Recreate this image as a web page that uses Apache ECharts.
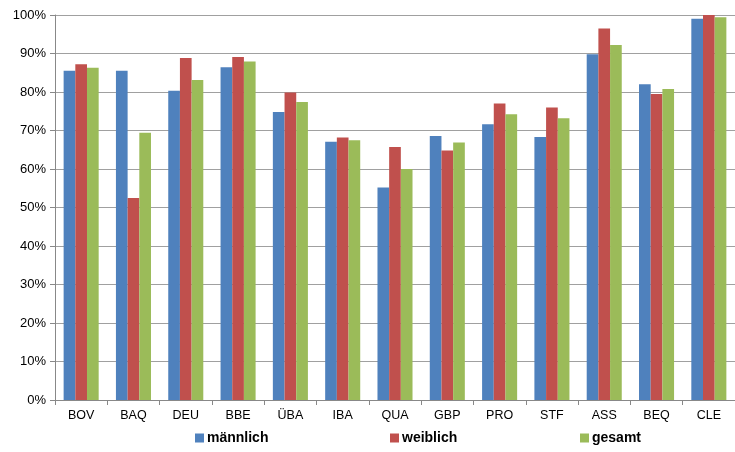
<!DOCTYPE html>
<html><head><meta charset="utf-8">
<script src="https://cdn.jsdelivr.net/npm/echarts@6/dist/echarts.min.js"></script>
<style>html,body{margin:0;padding:0;background:#fff}#c{width:735px;height:452px}</style>
</head><body><div id="c"></div>
<script>
const categories = ['BOV','BAQ','DEU','BBE','ÜBA','IBA','QUA','GBP','PRO','STF','ASS','BEQ','CLE'];
const maennlich = [85.5,85.5,80.3,86.4,74.8,67.1,55.2,68.6,71.6,68.3,89.8,82.0,99.0];
const weiblich  = [87.2,52.5,88.8,89.1,79.9,68.2,65.7,64.8,77.0,76.0,96.5,79.5,100.0];
const gesamt    = [86.3,69.4,83.1,87.9,77.4,67.5,60.0,66.9,74.2,73.2,92.2,80.8,99.4];
const seriesNames = ['männlich','weiblich','gesamt'];
const colors = ['#4F81BD','#C0504D','#9BBB59'];
const font = 'Liberation Sans, Arial, sans-serif';
const chart = echarts.init(document.getElementById('c'));
const legendLeft = [190, 385, 575];
chart.setOption({
  animation:false,
  grid:{left:55,right:0,top:15,bottom:52,containLabel:false},
  legend: seriesNames.map((n,i)=>({
    data:[n], left:legendLeft[i], top:426, itemWidth:9, itemHeight:9, itemGap:0,
    icon:'rect', textStyle:{fontFamily:font,fontSize:14,fontWeight:'bold',color:'#000',padding:[0,0,0,-2]}
  })),
  xAxis:{
    type:'category', data:categories, boundaryGap:true,
    axisLine:{lineStyle:{color:'#888',width:1}},
    axisTick:{show:true,length:5,lineStyle:{color:'#888'}},
    axisLabel:{fontFamily:font,fontSize:12.5,color:'#000',margin:9}
  },
  yAxis:{
    type:'value', min:0, max:100, interval:10,
    axisLine:{show:true,lineStyle:{color:'#888'}},
    axisTick:{show:true,length:5,lineStyle:{color:'#888'}},
    axisLabel:{fontFamily:font,fontSize:13,color:'#000',margin:9,formatter:'{value}%'},
    splitLine:{lineStyle:{color:'#a0a0a0',width:1}}
  },
  series:[maennlich,weiblich,gesamt].map((d,i)=>({
    name:seriesNames[i], type:'bar', data:d, barGap:'0%', barCategoryGap:'33%',
    itemStyle:{color:colors[i]}
  }))
});
</script></body></html>
